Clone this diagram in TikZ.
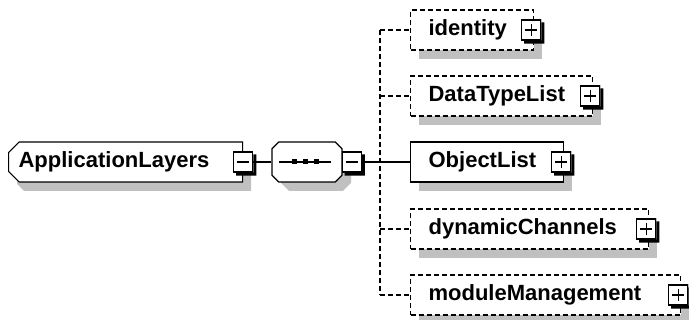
\documentclass[tikz,border=0pt]{standalone}
\usepackage{fontspec}
\setmainfont{Liberation Sans}
\usetikzlibrary{shapes.misc}
\definecolor{shadowgrey}{RGB}{192,192,192}
\begin{document}
\begin{tikzpicture}[x=1pt,y=-1pt,line width=1.2pt,
    elem/.style={draw,fill=white,anchor=west,minimum height=40pt,inner xsep=18pt,align=left,
      font=\bfseries\fontsize{22}{26}\selectfont},
    optional/.style={elem,dash pattern=on 5pt off 3pt},
    optline/.style={dash pattern=on 5pt off 3pt},
    expander/.style={draw,solid,fill=white,minimum width=19pt,minimum height=20pt,inner sep=0pt},
    minus/.style={expander,path picture={
      \draw ([xshift=-6pt]path picture bounding box.center) -- ([xshift=6pt]path picture bounding box.center);}},
    plus/.style={expander,path picture={
      \draw ([xshift=-6pt]path picture bounding box.center) -- ([xshift=6pt]path picture bounding box.center)
            ([yshift=-6pt]path picture bounding box.center) -- ([yshift=6pt]path picture bounding box.center);}}]
  \useasboundingbox (0,0) rectangle (689,320);
  % shadows
  \fill[shadowgrey] (17,151) -- (251,151) -- (251,191) -- (24,191) -- (17,184) -- cycle;
  \fill[shadowgrey] (281,151) -- (343,151) -- (351,159) -- (351,183) -- (343,191) -- (289,191) -- (281,183) -- cycle;
  \foreach \y/\w in {30/123,96/182,162/153,229/238,295/270}
    \fill[shadowgrey] (419,\y-11) rectangle (419+\w,\y+29);
  % root element and sequence
  \node[elem,chamfered rectangle,chamfered rectangle corners={north west,south west},
        chamfered rectangle xsep=7pt,inner xsep=3pt,text width=214pt] (root) at (8,162) {ApplicationLayers};
  \node[minus] (rootexp) at (root.east) {};
  \node[draw,fill=white,chamfered rectangle,chamfered rectangle xsep=8pt,
        minimum width=70pt,minimum height=40pt] (seq) at (307,162) {};
  \node[minus,anchor=west] (seqexp) at ([xshift=-1pt]seq.east) {};
  \draw ([xshift=8pt]seq.west) -- ([xshift=-12pt]seq.east);
  \foreach \dx in {-13,-2,9}
    \fill ([xshift=\dx pt]seq.center) +(-2.5,-2.5) rectangle +(2.5,2.5);
  % children
  \node[optional,text width=87pt] (identity) at (410,30) {identity};
  \node[optional,text width=146pt] (dtl) at (410,96) {DataTypeList};
  \node[elem,text width=117pt] (objl) at (410,162) {ObjectList};
  \node[optional,text width=202pt] (dync) at (410,229) {dynamicChannels};
  \node[optional,text width=234pt] (modm) at (410,295) {moduleManagement};
  \foreach \n in {identity,dtl,objl,dync,modm}
    \node[plus] (\n exp) at ([xshift=-3pt]\n.east) {};
  \foreach \n in {rootexp,seqexp,identityexp,dtlexp,objlexp,dyncexp,modmexp}
    \fill ([yshift=-3pt]\n.north east) -- ([shift={(3pt,-3pt)}]\n.north east)
      -- ([shift={(3pt,-3pt)}]\n.south east) -- ([shift={(3pt,-3pt)}]\n.south west)
      -- ([xshift=3pt]\n.south west) -- (\n.south east) -- cycle;
  % connectors
  \coordinate (trunk) at (380,162);
  \draw (rootexp) -- (seq);
  \draw (seqexp) -- (trunk);
  \draw[optline] (trunk |- identity.west) -- (trunk |- modm.west);
  \draw (trunk) -- (objl);
  \foreach \n in {identity,dtl,dync,modm}
    \draw[optline] (trunk |- \n.west) -- (\n);
\end{tikzpicture}
\end{document}
